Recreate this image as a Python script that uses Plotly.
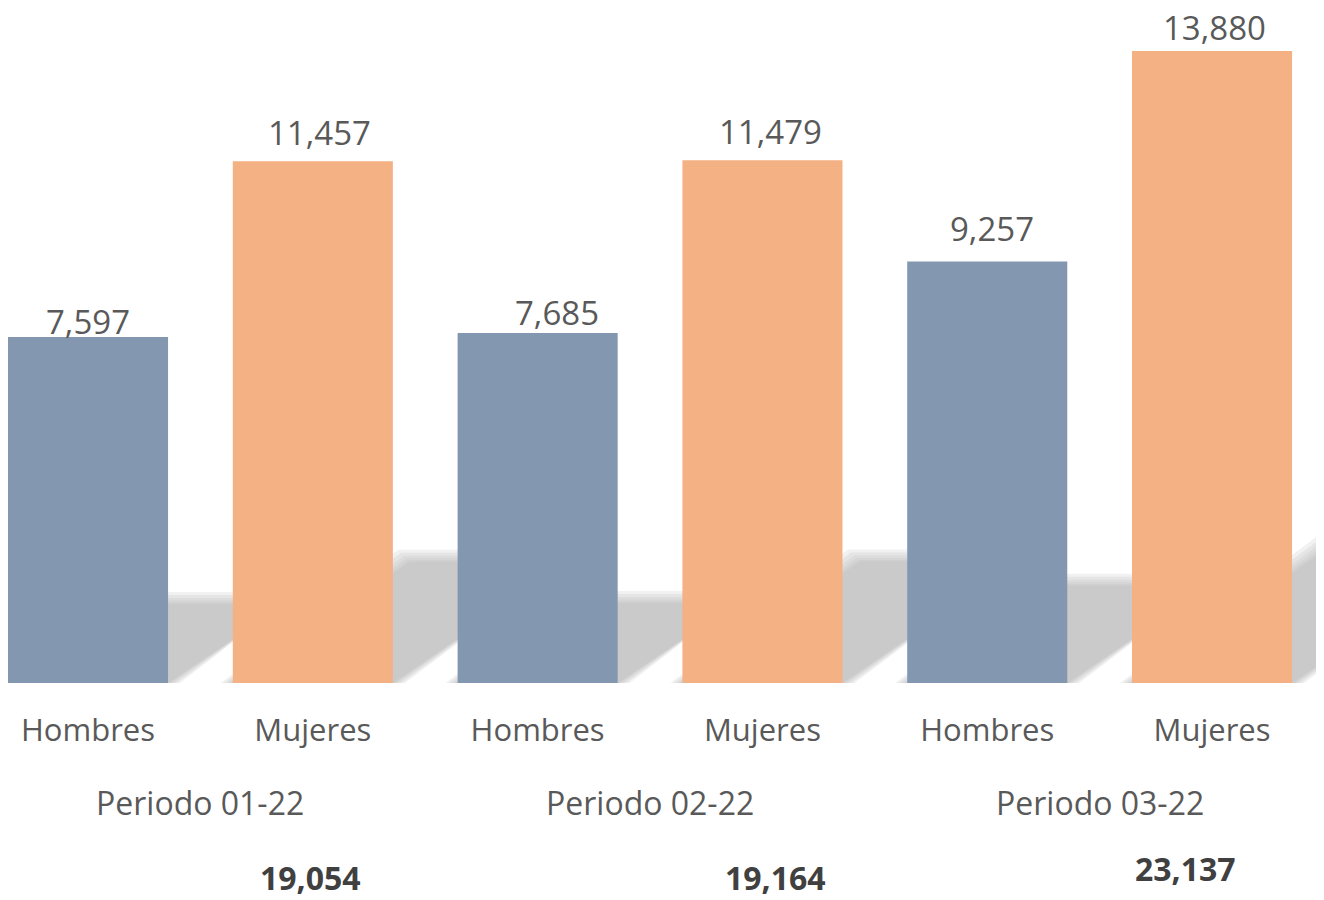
import plotly.graph_objects as go

periodos = ["Periodo 01-22", "Periodo 02-22", "Periodo 03-22"]
sexos = ["Hombres", "Mujeres"]
hombres = [7597, 7685, 9257]
mujeres = [11457, 11479, 13880]

colores = {"Hombres": "#8497B0", "Mujeres": "#F4B183"}
texto = "#595959"
fuente = "Open Sans"

# bar positions on a numeric axis: two bars per period
pos_h = [2 * i for i in range(len(periodos))]
pos_m = [2 * i + 1 for i in range(len(periodos))]
ancho = 0.712

# manual nudges of the value labels (px), like the hand-placed labels in the original
label_dx = [0, 7, 19, 8, 5, 2]
label_dy = [-8, 5, -3, 5, 10, 0]
# x positions of the total labels under each period
total_x = [0.988, 3.056, 4.884]

# the page puts the figure 8px in from the corner, so size it to fill the rest
W, H = 1316, 892
alto_plot = 675
px_y = 0.04553          # px per unit
y_max = alto_plot / px_y
x_rango = [-0.356, 5.498]
px_x = W / (x_rango[1] - x_rango[0])

fig = go.Figure()
fig.add_trace(go.Bar(x=pos_h, y=hombres, width=ancho, name="Hombres",
                     marker=dict(color=colores["Hombres"], line=dict(width=0))))
fig.add_trace(go.Bar(x=pos_m, y=mujeres, width=ancho, name="Mujeres",
                     marker=dict(color=colores["Mujeres"], line=dict(width=0))))

# soft cast shadows behind the bars (sheared copies of each bar, layered for blur)
shapes = []
todas = sorted(zip(pos_h + pos_m, hombres + mujeres))
capas = [12, 9, 6, 3.5, 1.5, 0]
for x, v in todas:
    h_px = v * px_y
    alto = 0.24 * h_px
    corr = 0.34 * h_px
    for blur in capas:
        dx = blur / px_x
        xl = x - ancho / 2 - dx
        xr = x + ancho / 2 + dx
        top = (alto + blur - 4) / px_y
        s = corr / px_x
        path = (f"M {xl},0 L {xr},0 L {xr + s},{top} L {xl + s},{top} Z")
        shapes.append(dict(type="path", path=path, xref="x", yref="y",
                           fillcolor="#B8B8B8", opacity=0.2,
                           line=dict(width=0), layer="below"))

anotaciones = []
for k, (x, v) in enumerate(todas):
    anotaciones.append(dict(x=x, y=v, xref="x", yref="y", text=f"{v:,}",
                            showarrow=False, yanchor="bottom", borderpad=0,
                            xshift=label_dx[k], yshift=label_dy[k],
                            font=dict(family=fuente, size=33, color=texto)))

for i, p in enumerate(periodos):
    anotaciones.append(dict(x=2 * i + 0.5, y=0, xref="x", yref="paper", text=p,
                            showarrow=False, yanchor="middle", yshift=-119,
                            font=dict(family=fuente, size=32, color=texto)))

totales_y = [-194, -194, -185]
for i in range(len(periodos)):
    total = hombres[i] + mujeres[i]
    anotaciones.append(dict(x=total_x[i], y=0, xref="x", yref="paper",
                            text=f"<b>{total:,}</b>", showarrow=False,
                            yanchor="middle", yshift=totales_y[i], borderpad=0,
                            font=dict(family=fuente, size=32, color="#404040")))

fig.update_layout(
    width=W, height=H,
    margin=dict(l=0, r=0, t=0, b=H - alto_plot),
    paper_bgcolor="white", plot_bgcolor="white",
    showlegend=False,
    shapes=shapes,
    annotations=anotaciones,
    xaxis=dict(range=x_rango, tickvals=pos_h + pos_m,
               ticktext=[sexos[0]] * 3 + [sexos[1]] * 3,
               showgrid=False, zeroline=False, showline=False, ticks="",
               ticklabelstandoff=26,
               tickfont=dict(family=fuente, size=31, color=texto)),
    yaxis=dict(range=[0, y_max], visible=False, showgrid=False),
)

fig.write_html("out.html")
